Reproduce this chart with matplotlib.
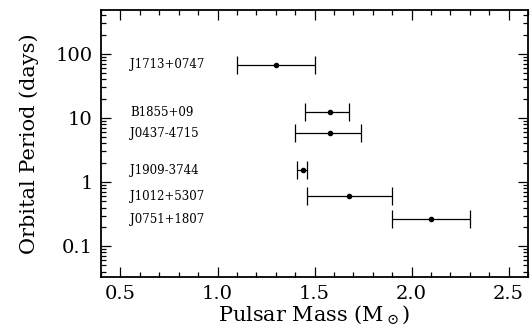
import numpy as np
import matplotlib
matplotlib.use("Agg")
import matplotlib.pyplot as plt
from matplotlib.ticker import LogLocator, NullFormatter, MultipleLocator

# pulsar data: name, mass, lower/upper mass bound, orbital period (days)
names = ["J1713+0747", "B1855+09", "J0437-4715", "J1909-3744", "J1012+5307", "J0751+1807"]
mass = [1.30, 1.58, 1.58, 1.44, 1.68, 2.10]
mass_lo = [1.10, 1.45, 1.40, 1.41, 1.46, 1.90]
mass_hi = [1.50, 1.68, 1.74, 1.46, 1.90, 2.30]
period = [67.8, 12.3, 5.74, 1.53, 0.60, 0.263]

plt.rcParams['font.family'] = ['DejaVu Serif']
plt.rcParams['mathtext.fontset'] = 'dejavuserif'

fig = plt.figure(figsize=(5.32, 3.31), dpi=100)
ax = fig.add_axes([0.190, 0.163, 0.8025, 0.807])

m = np.array(mass)
xerr = [m - np.array(mass_lo), np.array(mass_hi) - m]
ax.errorbar(m, period, xerr=xerr, fmt='o', color='black', ms=3,
            elinewidth=0.9, capsize=6.5, capthick=0.9)

for n, p in zip(names, period):
    ax.text(0.55, p, n, fontsize=8.5, va='center', ha='left')

ax.set_yscale('log')
ax.set_xlim(0.4, 2.6)
ax.set_ylim(10**-1.484, 10**2.6875)

ax.set_xticks([0.5, 1.0, 1.5, 2.0, 2.5])
ax.set_xticklabels(["0.5", "1.0", "1.5", "2.0", "2.5"])
ax.xaxis.set_minor_locator(MultipleLocator(0.1))
ax.set_yticks([0.1, 1, 10, 100])
ax.set_yticklabels(["0.1", "1", "10", "100"])
ax.yaxis.set_minor_locator(LogLocator(base=10, subs=np.arange(2, 10)))
ax.yaxis.set_minor_formatter(NullFormatter())

ax.tick_params(which='both', direction='in', top=True, right=True, width=0.9)
ax.tick_params(which='major', length=7, labelsize=14, pad=6)
ax.tick_params(which='minor', length=3.5)
for s in ax.spines.values():
    s.set_linewidth(1.3)

ax.set_xlabel(r"Pulsar Mass (M$_\odot$)", fontsize=15, labelpad=0)
ax.set_ylabel("Orbital Period (days)", fontsize=15, labelpad=12)

fig.savefig("out.png", dpi=100)
